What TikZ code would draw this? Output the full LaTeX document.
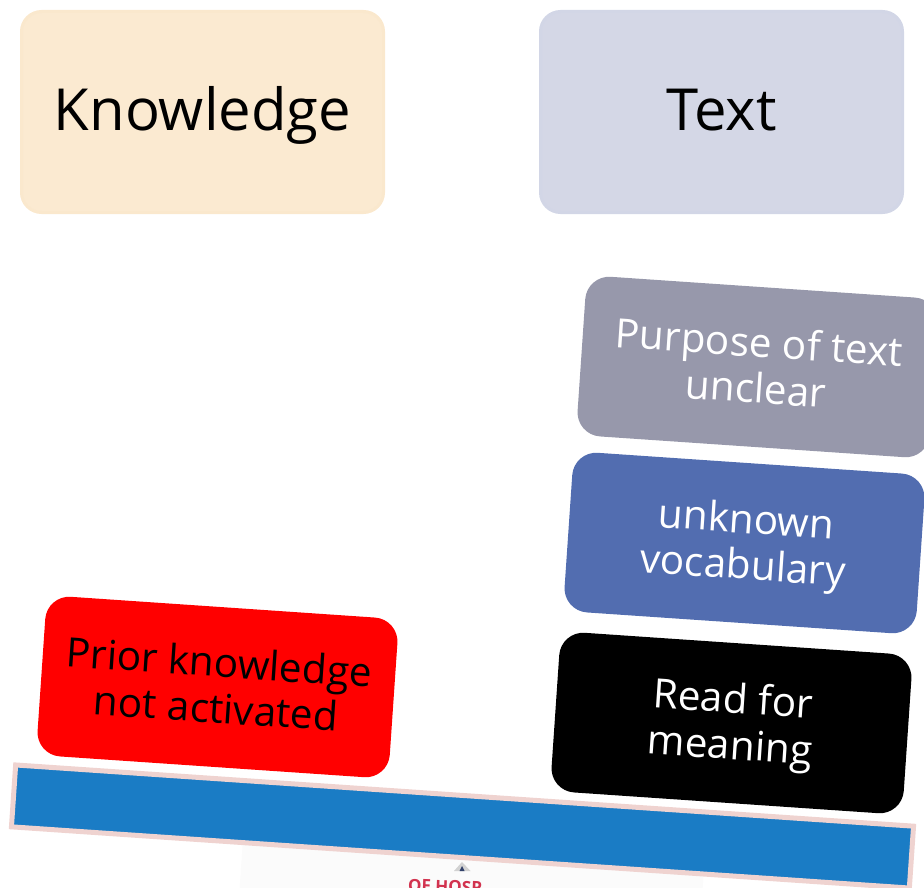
\documentclass[tikz,border=0pt]{standalone}
\usepackage{fontspec}
\setmainfont{Open Sans}
\usetikzlibrary{calc}
\definecolor{kfill}{HTML}{FBEAD1}
\definecolor{kline}{HTML}{FAE8CD}
\definecolor{tfill}{HTML}{D4D7E6}
\definecolor{tline}{HTML}{D2D6E6}
\definecolor{grayb}{HTML}{9798AB}
\definecolor{blueb}{HTML}{526DB0}
\definecolor{barb}{HTML}{1A7CC5}
\definecolor{barl}{HTML}{EFD3D0}
\definecolor{logor}{HTML}{D2334F}
\newcommand{\tiltstrut}{\rule[-5pt]{0pt}{5pt}}
\newcommand{\tilttop}{\rule{0pt}{36pt}}
\tikzset{
 x=1pt,y=-1pt,
 head/.style={draw,line width=3pt,rounded corners=20pt,minimum width=362pt,minimum height=201pt,inner sep=0pt,text height=42pt,text depth=4pt,font=\fontsize{58}{60}\selectfont,text=black},
 tilt/.style={rounded corners=24pt,rotate=-3.9,minimum width=353pt,minimum height=160pt,inner sep=0pt,align=center,font=\fontsize{40.5}{46}\selectfont},
}
\begin{document}
\begin{tikzpicture}
\useasboundingbox (0,0) rectangle (924,888);
\clip (0,0) rectangle (924,888);
\node[fill=kfill,draw=kline,head] (knowledge) at (202.5,112) {Knowledge};
\node[fill=tfill,draw=tline,head] (textbox) at (721.5,112) {Text};
\node[fill=grayb,text=white,tilt] (purpose) at (757.5,367) {Purpose of text\\unclear\tiltstrut};
\node[fill=blueb,text=white,tilt] (vocab) at (744.5,543) {\tilttop unknown\\vocabulary};
\node[fill=black,text=white,tilt] (read) at (731.5,723) {\tilttop Read for\\meaning};
\node[fill=red,text=black,tilt] (prior) at (217.5,687) {Prior knowledge\\not activated\tiltstrut};
\node[fill=black!1.5,rotate=-3.9,minimum width=462pt,minimum height=120pt,inner sep=0pt] (logo) at (470,905) {};
\fill[gray!35] (462,862) -- (470.5,871) -- (454,871) -- cycle;
\fill[blueb!60!black] (462,866) -- (464.5,871) -- (459.5,871) -- cycle;
\node[text=logor,font=\bfseries\fontsize{17}{17}\selectfont,inner sep=0pt,rotate=-2] (hosp) at (445,886.5) {OF HOSP};
\node[fill=barb,draw=barl,line width=5pt,rotate=-3.9,minimum width=900pt,minimum height=62pt,inner sep=0pt] (bar) at (462.5,826.5) {};
\end{tikzpicture}
\end{document}
